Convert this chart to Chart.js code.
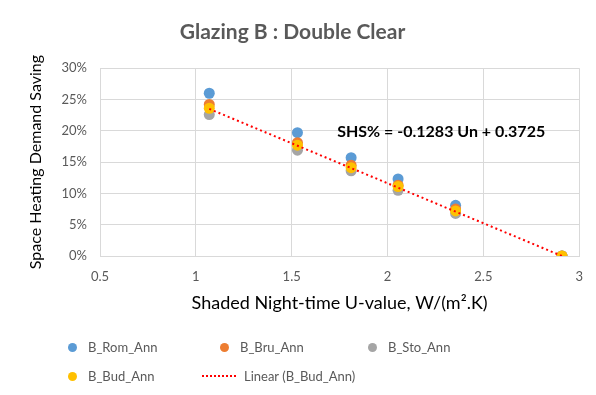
<!DOCTYPE html>
<html>
<head>
<meta charset="utf-8">
<script src="https://cdn.jsdelivr.net/npm/chart.js@4/dist/chart.umd.min.js"></script>
<style>
  body { margin: 0; background: #fff; }
  #wrap { position: relative; width: 596px; height: 395px; }
  #legend { position: absolute; left: 0; top: 0; font-family: Lato, "Open Sans", sans-serif; font-size: 13px; color: #595959; }
  .item { position: absolute; display: flex; align-items: center; white-space: nowrap; }
  .dot { width: 9px; height: 9px; border-radius: 50%; margin-right: 11px; }
  .dash { width: 34px; border-top: 2px dotted #ff0000; margin-right: 8px; }
</style>
</head>
<body>
<div id="wrap">
  <canvas id="chart" width="596" height="395"></canvas>
  <div id="legend"></div>
</div>
<script>
// U-values (x) and saving in percent (y)
const uValues = [1.07, 1.53, 1.81, 2.055, 2.355, 2.91];
const romAnn = [26.0, 19.7, 15.7, 12.3, 8.1, 0.0];
const bruAnn = [24.2, 18.1, 14.5, 11.3, 7.5, 0.0];
const stoAnn = [22.6, 16.9, 13.6, 10.5, 6.8, 0.0];
const budAnn = [23.6, 17.7, 14.1, 11.1, 7.2, 0.0];

// trend line end points
const trendX = [1.07, 2.91];
const trendY = [23.5, 0.0];

const xTicks = [0.5, 1, 1.5, 2, 2.5, 3];
const yTicks = [0, 5, 10, 15, 20, 25, 30];

const equationText = 'SHS% = -0.1283 Un + 0.3725';
const equationAt = { x: 2.28, y: 19.8 };

const fontFamily = 'Lato, "Open Sans", sans-serif';

function toPoints(xs, ys) {
    return xs.map((x, i) => ({ x: x, y: ys[i] }));
}

// Function to draw the trend equation in the plot
const equationPlugin = {
    id: 'equation',
    afterDatasetsDraw(chart) {
        const ctx = chart.ctx;
        const px = chart.scales.x.getPixelForValue(equationAt.x);
        const py = chart.scales.y.getPixelForValue(equationAt.y);
        ctx.save();
        ctx.font = 'bold 16px ' + fontFamily;
        ctx.fillStyle = '#000';
        ctx.textAlign = 'center';
        ctx.textBaseline = 'middle';
        ctx.fillText(equationText, px, py);
        ctx.restore();
    }
};

const datasets = [
    { label: 'B_Rom_Ann', data: toPoints(uValues, romAnn), backgroundColor: '#5B9BD5', borderColor: '#5B9BD5', order: 5 },
    { label: 'B_Bru_Ann', data: toPoints(uValues, bruAnn), backgroundColor: '#ED7D31', borderColor: '#ED7D31', order: 4 },
    { label: 'B_Sto_Ann', data: toPoints(uValues, stoAnn), backgroundColor: '#A5A5A5', borderColor: '#A5A5A5', order: 3 },
    { label: 'B_Bud_Ann', data: toPoints(uValues, budAnn), backgroundColor: '#FFC000', borderColor: '#FFC000', order: 2 },
    {
        label: 'Linear (B_Bud_Ann)', type: 'line', data: toPoints(trendX, trendY),
        borderColor: '#FF0000', borderWidth: 2, borderDash: [2, 3], pointRadius: 0, fill: false, order: 1
    }
];
datasets.slice(0, 4).forEach(d => { d.pointRadius = 5.5; d.pointHoverRadius = 5.5; d.borderWidth = 0; });

const chart = new Chart(document.getElementById('chart'), {
    type: 'scatter',
    data: { datasets: datasets },
    options: {
        responsive: false,
        animation: false,
        layout: { padding: { top: 0, right: 11, bottom: 80, left: 0 } },
        plugins: {
            legend: { display: false },
            tooltip: { enabled: false },
            title: {
                display: true,
                text: 'Glazing B : Double Clear',
                color: '#595959',
                font: { family: fontFamily, size: 21, weight: 'bold' },
                padding: { top: 20, bottom: 23 }
            }
        },
        scales: {
            x: {
                type: 'linear', min: 0.5, max: 3,
                afterBuildTicks: s => { s.ticks = xTicks.map(v => ({ value: v })); },
                ticks: { color: '#595959', font: { family: fontFamily, size: 13 }, padding: 13, callback: v => String(v) },
                grid: { color: '#d9d9d9', drawTicks: false },
                border: { color: '#d9d9d9' },
                title: {
                    display: true,
                    text: 'Shaded Night-time U-value, W/(m\u00B2.K)',
                    color: '#000',
                    font: { family: fontFamily, size: 18 },
                    padding: { top: 6, bottom: 1 }
                },
                afterFit: s => { s.height = 59; }
            },
            y: {
                min: 0, max: 30,
                afterBuildTicks: s => { s.ticks = yTicks.map(v => ({ value: v })); },
                ticks: { color: '#595959', font: { family: fontFamily, size: 13 }, padding: 13, callback: v => v + '%' },
                grid: { color: '#d9d9d9', drawTicks: false },
                border: { color: '#d9d9d9' },
                title: {
                    display: true,
                    text: 'Space Heating Demand Saving',
                    color: '#000',
                    font: { family: fontFamily, size: 16 },
                    padding: { top: 26, bottom: 4 }
                },
                afterFit: s => { s.width = 100; }
            }
        }
    },
    plugins: [equationPlugin]
});

// HTML legend in three columns, like the original
const legendPos = [
    { left: 68, top: 339 }, { left: 220, top: 339 }, { left: 368, top: 339 },
    { left: 68, top: 368 }, { left: 202, top: 368 }
];
const legendBox = document.getElementById('legend');
chart.data.datasets.forEach((d, i) => {
    const item = document.createElement('div');
    item.className = 'item';
    item.style.left = legendPos[i].left + 'px';
    item.style.top = legendPos[i].top + 'px';
    const mark = document.createElement('span');
    if (d.type === 'line') {
        mark.className = 'dash';
    } else {
        mark.className = 'dot';
        mark.style.background = d.backgroundColor;
    }
    item.appendChild(mark);
    item.appendChild(document.createTextNode(d.label));
    legendBox.appendChild(item);
});
</script>
</body>
</html>
